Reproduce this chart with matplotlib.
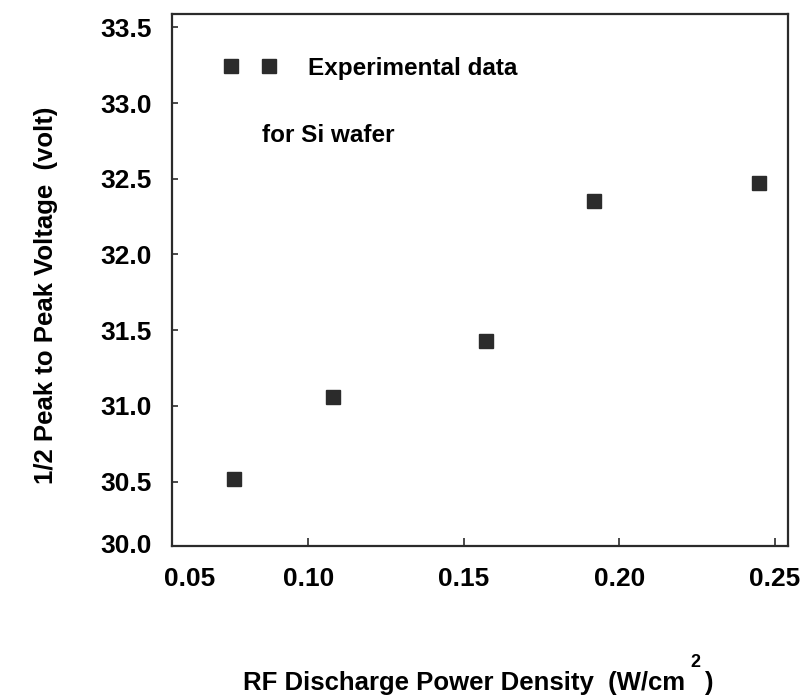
import matplotlib.pyplot as plt

plt.rcParams['font.family'] = ['Liberation Sans', 'DejaVu Sans']
plt.rcParams['font.weight'] = 'bold'

# data
power_density = [0.076, 0.108, 0.157, 0.192, 0.245]   # W/cm^2
half_vpp = [30.52, 31.06, 31.43, 32.35, 32.47]        # volt

x_ticks = [0.10, 0.15, 0.20, 0.25]
y_ticks = [30.5, 31.0, 31.5, 32.0, 32.5, 33.0, 33.5]

ink = '#2b2b2b'
tick_fs = 19
label_fs = 18.5
text_fs = 17.5

fig = plt.figure(figsize=(8.06, 6.96), dpi=100)
ax = fig.add_axes([0.214, 0.2148, 0.7633, 0.7651])

ax.plot(power_density, half_vpp, linestyle='none', marker='s', markersize=10,
        color=ink, label='Experimental data')

ax.set_xlim(0.0563, 0.2542)
ax.set_ylim(30.072, 33.588)
ax.set_xticks(x_ticks)
ax.set_xticklabels([f'{t:.2f}' for t in x_ticks])
ax.set_yticks(y_ticks)
ax.set_yticklabels([f'{t:.1f}' for t in y_ticks])

for s in ax.spines.values():
    s.set_linewidth(1.6)
    s.set_color(ink)
ax.tick_params(axis='x', direction='in', length=6, width=1.2, color=ink,
               labelsize=tick_fs, pad=15)
ax.tick_params(axis='y', direction='in', length=4, width=1.2, color=ink,
               labelsize=tick_fs, pad=15)

# the corner labels sit inside the frame in the original
ax.annotate('0.05', xy=(0.0276, 0), xycoords='axes fraction', xytext=(0, -15),
            textcoords='offset points', ha='center', va='top',
            fontsize=tick_fs, fontweight='bold')
ax.annotate('30.0', xy=(0, 0.006), xycoords='axes fraction', xytext=(-15, 0),
            textcoords='offset points', ha='right', va='center_baseline',
            fontsize=tick_fs, fontweight='bold')

leg = ax.legend(loc='center left', bbox_to_anchor=(0.0825, 0.898), numpoints=2,
                frameon=False, fontsize=text_fs, handlelength=2.2,
                handletextpad=1.3, borderpad=0, borderaxespad=0)
ax.text(0.146, 0.772, 'for Si wafer', transform=ax.transAxes, ha='left',
        va='center', fontsize=text_fs, fontweight='bold')

fig.text(0.057, 0.576, '1/2 Peak to Peak Voltage  (volt)', rotation=90,
         ha='center', va='center', fontsize=label_fs, fontweight='bold')

# x label with the raised exponent as in the scan
fig.text(0.302, 0.009, 'RF Discharge Power Density  (W/cm', ha='left',
         va='baseline', fontsize=label_fs, fontweight='bold')
fig.text(0.857, 0.042, '2', ha='left', va='baseline', fontsize=13,
         fontweight='bold')
fig.text(0.873, 0.009, ')', ha='left', va='baseline', fontsize=label_fs,
         fontweight='bold')

fig.savefig('out.png', dpi=100, facecolor='white')
